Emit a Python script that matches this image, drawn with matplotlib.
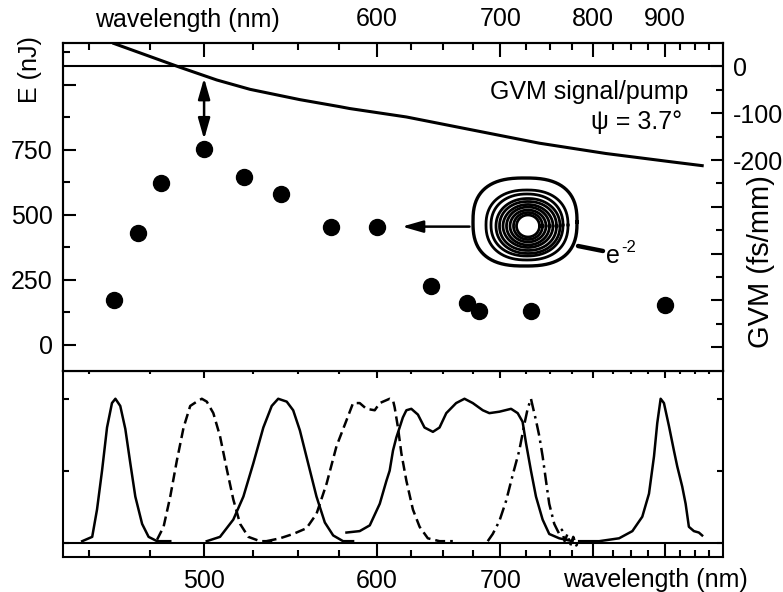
import numpy as np
import matplotlib.pyplot as plt
from matplotlib.ticker import FixedLocator, FixedFormatter, NullFormatter

plt.rcParams['font.family'] = ['Liberation Sans', 'DejaVu Sans']
plt.rcParams['font.size'] = 18
plt.rcParams['axes.linewidth'] = 1.5

# signal pulse energy (nJ) at each tuning wavelength (nm)
wl_pts = [460, 470, 480, 500, 520, 540, 570, 600, 640, 670, 680, 730, 900]
energy = [172, 431, 623, 751, 645, 580, 454, 454, 227, 162, 130, 130, 152]

# group velocity mismatch signal/pump (fs/mm)
gvm_wl = [460, 488.7, 506.2, 523.2, 550.9, 575.3, 581.7, 621.2, 674.9, 738.9, 816.2, 911.2, 962.3]
gvm = [49, -2, -29, -49, -71, -86, -90, -108, -136, -164, -186, -204, -212]

# normalised signal spectra
spec1_wl = [447.4, 451.3, 453.2, 455.2, 457.2, 459.2, 460.6, 462.6, 464.7, 466.8, 468.9, 471.8, 474.6, 478.3, 484.2]
spec1 = [0.01, 0.04, 0.23, 0.50, 0.80, 0.97, 1.00, 0.95, 0.79, 0.55, 0.32, 0.13, 0.04, 0.01, 0.01]

spec2_wl = [478.3, 481.2, 484.2, 487.2, 490.3, 493.4, 496.5, 498.9, 501.3, 504.5, 507.8, 511.2, 514.5, 518.0, 522.3, 528.5, 535.5]
spec2 = [0.02, 0.11, 0.32, 0.57, 0.80, 0.95, 0.98, 1.00, 0.98, 0.90, 0.74, 0.51, 0.30, 0.13, 0.04, 0.01, 0.01]

spec3_wl = [501.3, 507.8, 514.5, 519.7, 524.9, 530.3, 534.9, 538.5, 543.3, 547.0, 550.9, 555.8, 560.8, 565.9, 571.1, 577.4, 583.9]
spec3 = [0.01, 0.04, 0.16, 0.32, 0.55, 0.80, 0.95, 1.00, 0.98, 0.92, 0.78, 0.55, 0.32, 0.14, 0.05, 0.01, 0.01]

spec4_wl = [532.1, 539.5, 547.0, 554.8, 560.8, 567.0, 573.2, 579.6, 583.9, 588.3, 592.8, 598.5, 602.0, 609.0, 611.4,
            612.6, 615.0, 617.5, 621.2, 626.1, 631.2, 637.6, 646.9, 657.8]
spec4 = [0.01, 0.03, 0.06, 0.10, 0.20, 0.41, 0.67, 0.85, 0.97, 0.97, 0.93, 0.92, 0.97, 1.00, 0.99,
         0.94, 0.80, 0.62, 0.43, 0.23, 0.11, 0.03, 0.01, 0.01]

spec5_wl = [579.6, 588.3, 595.1, 602.0, 606.7, 609.0, 611.4, 613.8, 616.2, 618.6, 621.2, 624.9, 629.9, 635.0, 641.6,
            646.9, 652.4, 660.6, 667.7, 674.9, 683.8, 689.8, 699.1, 710.3, 716.8, 721.7, 725.2, 730.2, 735.4,
            742.4, 749.5, 760.5, 775.6]
spec5 = [0.07, 0.08, 0.12, 0.27, 0.43, 0.50, 0.64, 0.73, 0.80, 0.87, 0.92, 0.93, 0.89, 0.80, 0.77,
         0.80, 0.90, 0.97, 1.00, 0.97, 0.92, 0.90, 0.91, 0.93, 0.90, 0.84, 0.69, 0.50, 0.32,
         0.16, 0.06, 0.03, 0.01]

spec6_wl = [688.3, 692.9, 699.1, 705.5, 711.9, 718.4, 723.4, 726.8, 730.2, 731.9, 735.4, 738.9, 742.4, 746.0,
            749.5, 755.0, 760.5, 763.5, 766.5, 769.8, 773.0, 776.5, 780.0, 783.4]
spec6 = [0.01, 0.06, 0.15, 0.29, 0.47, 0.64, 0.82, 0.93, 1.00, 0.95, 0.85, 0.74, 0.60, 0.43,
         0.27, 0.13, 0.06, 0.09, 0.01, 0.06, -0.02, 0.04, -0.02, 0.01]

spec7_wl = [783.4, 807.8, 833.7, 851.9, 866.0, 875.8, 883.3, 888.2, 893.4, 898.5, 906.4, 914.3, 919.7, 927.9,
            933.6, 939.1, 947.7, 956.4, 962.2]
spec7 = [0.01, 0.01, 0.03, 0.08, 0.18, 0.34, 0.60, 0.83, 1.00, 0.97, 0.81, 0.64, 0.53, 0.39,
         0.27, 0.11, 0.08, 0.07, 0.05]

spectra = [(spec1_wl, spec1, '-'), (spec2_wl, spec2, (0, (4, 2))), (spec3_wl, spec3, '-'),
           (spec4_wl, spec4, (0, (4, 2))), (spec5_wl, spec5, '-'), (spec6_wl, spec6, (0, (5, 2, 1, 2))),
           (spec7_wl, spec7, '-')]

major_wl = [500, 600, 700, 800, 900]
minor_wl = [w for w in range(450, 1000, 25) if w % 100]

# beam profile contours: centre x, centre y, half width, half height, squareness
rings = [(525, 222, 52, 44, 2.6), (527, 225, 41, 35, 2.3), (527, 225, 36, 31, 2.2),
         (528, 226, 32, 27.5, 2.1), (528, 226, 28.5, 24.5, 2.1), (528, 226, 25, 21.5, 2.0),
         (528, 226, 21.5, 19, 2.0), (528, 226, 18, 16, 2.0), (528, 226, 14.5, 13.5, 2.0),
         (528, 226, 11.5, 11, 2.0)]

W, H = 783, 592
fig = plt.figure(figsize=(W / 100, H / 100), dpi=100)


def box(x0, y0, x1, y1):
    return [x0 / W, 1 - y1 / H, (x1 - x0) / W, (y1 - y0) / H]


def fwd(w):
    with np.errstate(divide='ignore'):
        return -1000.0 / np.asarray(w, float)


def inv(u):
    with np.errstate(divide='ignore'):
        return -1000.0 / np.asarray(u, float)


def wl_axis(ax, labels):
    ax.set_xscale('function', functions=(fwd, inv))
    ax.set_xlim(440, 1000)
    ax.xaxis.set_major_locator(FixedLocator(major_wl))
    ax.xaxis.set_minor_locator(FixedLocator(minor_wl))
    ax.xaxis.set_major_formatter(FixedFormatter(labels))
    ax.xaxis.set_minor_formatter(NullFormatter())


# lower panel: spectra
ax2 = fig.add_axes(box(62.7, 370.7, 722.5, 557))
ax2.patch.set_visible(False)
wl_axis(ax2, ['500', '600', '700', '', ''])
for wl, s, ls in spectra:
    ax2.plot(wl, s, color='k', lw=1.8, ls=ls)
ax2.axhline(0, color='k', lw=1.5)
ax2.set_ylim(-0.1, 1.195)
ax2.yaxis.set_major_locator(FixedLocator([0, 0.5, 1.0]))
ax2.yaxis.set_major_formatter(NullFormatter())
ax2.tick_params(axis='x', which='both', direction='in', bottom=True, top=False, pad=8.5, width=1.5)
ax2.tick_params(axis='x', which='major', length=10)
ax2.tick_params(axis='x', which='minor', length=5)
ax2.tick_params(axis='y', direction='in', left=True, right=True, length=4, width=1.5)

# upper panel: pulse energy and GVM
ax1 = fig.add_axes(box(62.7, 43, 722.5, 370.7))
wl_axis(ax1, ['', '600', '700', '800', '900'])
ax1.set_ylim(-100, 1160)
ax1.yaxis.set_major_locator(FixedLocator([0, 250, 500, 750, 1000]))
ax1.yaxis.set_minor_locator(FixedLocator([125, 375, 625, 875, 1125]))
ax1.yaxis.set_major_formatter(FixedFormatter(['0', '250', '500', '750', '']))
ax1.tick_params(axis='x', which='both', direction='in', bottom=False, top=True,
                labelbottom=False, labeltop=True, pad=8.5, width=1.5)
ax1.tick_params(axis='x', which='major', length=10)
ax1.tick_params(axis='x', which='minor', length=5)
ax1.tick_params(axis='y', which='both', direction='in', pad=7, width=1.5)
ax1.tick_params(axis='y', which='major', length=9)
ax1.tick_params(axis='y', which='minor', length=5)

ax1.plot(wl_pts, energy, 'o', color='k', ms=11.5, zorder=5)
ax1.annotate('', xy=(500, 790), xytext=(500, 1025),
             arrowprops=dict(arrowstyle='<|-|>,head_length=0.7,head_width=0.2', lw=1.8, color='k',
                             mutation_scale=18, shrinkA=0, shrinkB=0))
ax1.annotate('', xy=(618, 454), xytext=(672, 454),
             arrowprops=dict(arrowstyle='-|>,head_length=0.7,head_width=0.2', lw=1.8, color='k',
                             mutation_scale=18, shrinkA=0, shrinkB=0))

ax1r = ax1.twinx()
ax1r.plot(gvm_wl, gvm, color='k', lw=2.2)
ax1r.axhline(0, color='k', lw=1.5)
ax1r.set_ylim(-650, 50)
ax1r.yaxis.set_major_locator(FixedLocator(list(range(-600, 1, 100))))
ax1r.yaxis.set_minor_locator(FixedLocator(list(range(-550, 0, 100))))
ax1r.yaxis.set_major_formatter(FixedFormatter(['', '', '', '', '-200', '-100', '0']))
ax1r.tick_params(axis='y', which='both', direction='in', pad=7.5, width=1.5)
ax1r.tick_params(axis='y', which='major', length=9)
ax1r.tick_params(axis='y', which='minor', length=5)
# short ticks along the panel divider
ax1r.xaxis.set_visible(True)
ax1r.tick_params(axis='x', which='both', direction='out', bottom=True, top=False,
                 labelbottom=False, labeltop=False, width=1.5)
ax1r.tick_params(axis='x', which='major', length=5)
ax1r.tick_params(axis='x', which='minor', length=2.5)

# beam profile inset
ax_in = fig.add_axes(box(460, 165, 615, 280))
ax_in.set_xlim(460, 615)
ax_in.set_ylim(280, 165)
ax_in.axis('off')
t = np.linspace(0, 2 * np.pi, 241)
for k, (cx, cy, a, b, n) in enumerate(rings):
    c, s = np.cos(t), np.sin(t)
    rx = cx + a * np.sign(c) * np.abs(c) ** (2 / n)
    ry = cy + b * np.sign(s) * np.abs(s) ** (2 / n)
    ax_in.plot(rx, ry, color='k', lw=2.4 if k == 0 else 2.0)
ax_in.plot([578, 603], [246, 251], color='k', lw=3.2, solid_capstyle='round')

# texts
fig.text(187 / W, 1 - 26.5 / H, 'wavelength (nm)', ha='center', va='baseline')
fig.text(655 / W, 1 - 587.5 / H, 'wavelength (nm)', ha='center', va='baseline')
fig.text(30 / W, 1 - 70 / H, 'E (nJ)', rotation=90, ha='center', va='center')
fig.text(761 / W, 1 - 262 / H, 'GVM (fs/mm)', rotation=90, ha='center', va='center', fontsize=21)
fig.text(688 / W, 1 - 99.5 / H, 'GVM signal/pump', ha='right', va='baseline')
fig.text(682 / W, 1 - 129.5 / H, 'ψ = 3.7°', ha='right', va='baseline')
fig.text(606 / W, 1 - 263 / H, 'e', ha='left', va='baseline')
fig.text(621 / W, 1 - 252 / H, '-2', ha='left', va='baseline', fontsize=12)

fig.savefig('out.png', dpi=100)
